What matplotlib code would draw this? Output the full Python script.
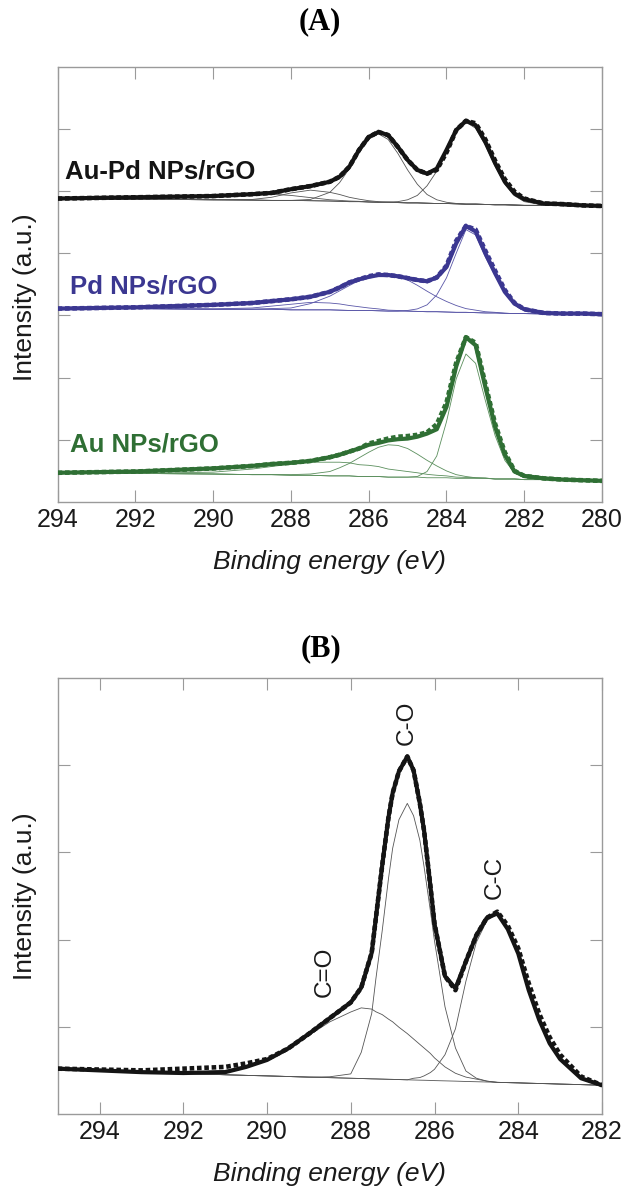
import numpy as np
import matplotlib
matplotlib.use('Agg')
import matplotlib.pyplot as plt

plt.rcParams['font.family'] = ['Liberation Sans', 'DejaVu Sans']

# ---------------- panel A: C1s of the three composites ----------------
energy_a = [294, 292, 290, 289, 288.5, 288, 287.5, 287, 286.75, 286.5, 286.25, 286,
            285.75, 285.5, 285.25, 285, 284.75, 284.5, 284.25, 284, 283.75, 283.5,
            283.25, 283, 282.75, 282.5, 282.25, 282, 281.5, 281, 280.5, 280]

# Au-Pd NPs/rGO (black)
aupd_fit = [4.88, 4.90, 4.92, 4.95, 4.97, 5.03, 5.08, 5.15, 5.23, 5.39, 5.66, 5.87,
            5.95, 5.90, 5.71, 5.50, 5.34, 5.28, 5.36, 5.66, 5.98, 6.13, 6.06, 5.79,
            5.45, 5.15, 4.96, 4.87, 4.80, 4.79, 4.77, 4.76]
aupd_meas = [4.88, 4.90, 4.92, 4.95, 4.97, 5.03, 5.08, 5.15, 5.23, 5.39, 5.66, 5.87,
             5.95, 5.90, 5.71, 5.50, 5.34, 5.28, 5.34, 5.62, 5.98, 6.13, 6.09, 5.83,
             5.49, 5.19, 4.99, 4.88, 4.80, 4.79, 4.77, 4.76]
aupd_base = [4.88, 4.87, 4.86, 4.855, 4.85, 4.85, 4.845, 4.84, 4.835, 4.83, 4.83, 4.825,
             4.82, 4.82, 4.815, 4.81, 4.81, 4.805, 4.80, 4.80, 4.795, 4.79, 4.79, 4.785,
             4.78, 4.78, 4.775, 4.77, 4.77, 4.765, 4.76, 4.76]
aupd_cc = [0, 0, 0, 0, 0, 0, 0, 0, 0, 0, 0, 0, 0, .005, .015, .05, .12, .28, .52, .85,
           1.17, 1.32, 1.22, .95, .62, .33, .15, .06, .005, 0, 0, 0]
aupd_co = [0, 0, 0, 0, 0, 0, .02, .14, .30, .53, .79, 1.01, 1.10, 1.01, .79, .53, .30,
           .14, .06, .02, .006, 0, 0, 0, 0, 0, 0, 0, 0, 0, 0, 0]
aupd_c3 = [0, 0, 0, .01, .05, .12, .17, .14, .11, .07, .04, .02, .01, 0, 0, 0, 0, 0, 0,
           0, 0, 0, 0, 0, 0, 0, 0, 0, 0, 0, 0, 0]
aupd_c4 = [0, 0, .04, .10, .10, .08, .05, .02, .015, .01, .005, 0, 0, 0, 0, 0, 0, 0, 0,
           0, 0, 0, 0, 0, 0, 0, 0, 0, 0, 0, 0, 0]

# Pd NPs/rGO (blue)
pd_fit = [3.11, 3.13, 3.17, 3.20, 3.23, 3.26, 3.30, 3.38, 3.45, 3.53, 3.58, 3.62,
          3.65, 3.65, 3.63, 3.60, 3.57, 3.55, 3.61, 3.78, 4.16, 4.44, 4.35, 4.00,
          3.68, 3.38, 3.19, 3.10, 3.04, 3.03, 3.03, 3.02]
pd_meas = [3.11, 3.13, 3.17, 3.20, 3.23, 3.26, 3.30, 3.38, 3.45, 3.53, 3.58, 3.63,
           3.66, 3.65, 3.63, 3.60, 3.57, 3.55, 3.61, 3.80, 4.20, 4.44, 4.38, 4.04,
           3.72, 3.41, 3.20, 3.10, 3.04, 3.03, 3.03, 3.02]
pd_base = [3.11, 3.11, 3.10, 3.10, 3.10, 3.09, 3.09, 3.09, 3.085, 3.08, 3.08, 3.08,
           3.075, 3.07, 3.07, 3.07, 3.065, 3.06, 3.06, 3.055, 3.05, 3.05, 3.045, 3.04,
           3.04, 3.035, 3.03, 3.03, 3.025, 3.02, 3.02, 3.02]
pd_cc = [0, 0, 0, 0, 0, 0, 0, 0, 0, 0, 0, 0, 0, 0, 0, .01, .04, .11, .27, .55, .95,
         1.33, 1.25, .90, .60, .33, .14, .05, .01, 0, 0, 0]
pd_co = [0, 0, 0, 0, .01, .03, .10, .22, .31, .40, .48, .56, .59, .60, .57, .50, .42,
         .33, .24, .17, .11, .06, .04, .02, .01, 0, 0, 0, 0, 0, 0, 0]
pd_c3 = [0, 0, .005, .02, .05, .09, .12, .11, .10, .08, .06, .04, .03, .015, .01, 0, 0,
         0, 0, 0, 0, 0, 0, 0, 0, 0, 0, 0, 0, 0, 0, 0]

# Au NPs/rGO (green)
au_fit = [.47, .49, .54, .58, .61, .63, .66, .72, .76, .81, .86, .92, .95, .99, 1.01,
          1.02, 1.05, 1.10, 1.17, 1.53, 2.18, 2.65, 2.52, 1.85, 1.21, .76, .49, .42,
          .38, .36, .35, .34]
au_meas = [.47, .49, .54, .58, .61, .63, .66, .72, .76, .81, .86, .94, .98, 1.02, 1.05,
           1.06, 1.08, 1.12, 1.25, 1.60, 2.24, 2.65, 2.56, 1.90, 1.26, .80, .50, .42,
           .38, .36, .35, .34]
au_base = [.47, .46, .45, .44, .44, .43, .43, .42, .42, .42, .41, .41, .41, .40, .40,
           .40, .40, .39, .39, .39, .38, .38, .38, .38, .37, .37, .37, .36, .36, .35,
           .35, .34]
au_cc = [0, 0, 0, 0, 0, 0, 0, 0, 0, 0, 0, 0, 0, 0, 0, 0, .01, .10, .35, .90, 1.60,
         2.00, 1.85, 1.25, .70, .30, .10, .03, 0, 0, 0, 0]
au_co = [0, 0, 0, 0, 0, .01, .02, .07, .13, .20, .30, .39, .47, .52, .51, .46, .37,
         .28, .19, .11, .06, .03, .01, .005, 0, 0, 0, 0, 0, 0, 0, 0]
au_c3 = [0, 0, .03, .09, .13, .18, .21, .22, .22, .21, .19, .18, .16, .13, .11, .09,
         .07, .055, .04, .03, .02, .015, .01, .005, 0, 0, 0, 0, 0, 0, 0, 0]

labels_a = ['Au-Pd NPs/rGO', 'Pd NPs/rGO', 'Au NPs/rGO']
label_pos_a = [(293.82, 5.31), (293.68, 3.47), (293.68, 0.93)]
colors_a = ['#141414', '#3b3791', '#2f6f34']
thin_a = ['#555555', '#5a57a8', '#5b8f5d']

# ---------------- panel B: C1s of GO ----------------
energy_b = [295, 294, 293, 292, 291, 290.5, 290, 289.5, 289, 288.5, 288, 287.75, 287.5,
            287.4, 287.25, 287.1, 287, 286.85, 286.65, 286.5, 286.35, 286.25, 286.1,
            286, 285.75, 285.5, 285.25, 285, 284.75, 284.5, 284.25, 284, 283.75, 283.5,
            283.25, 283, 282.5, 282]
go_fit = [.52, .50, .48, .47, .48, .54, .62, .75, .92, 1.10, 1.28, 1.45, 1.85, 2.25,
          2.85, 3.40, 3.68, 3.93, 4.10, 3.94, 3.56, 3.25, 2.62, 2.18, 1.58, 1.44, 1.75,
          2.05, 2.25, 2.30, 2.12, 1.84, 1.42, 1.08, .81, .63, .41, .33]
go_meas = [.52, .51, .50, .52, .54, .58, .63, .75, .92, 1.10, 1.28, 1.45, 1.85, 2.25,
           2.85, 3.40, 3.68, 3.93, 4.10, 3.94, 3.56, 3.25, 2.62, 2.18, 1.58, 1.42, 1.75,
           2.05, 2.25, 2.32, 2.16, 1.90, 1.50, 1.15, .88, .68, .43, .33]
go_base = [.52, .50, .48, .465, .45, .443, .437, .43, .423, .417, .41, .407, .403, .402,
           .40, .398, .397, .395, .392, .39, .388, .387, .385, .383, .38, .377, .373,
           .37, .367, .363, .36, .357, .353, .35, .347, .343, .337, .33]
go_co = [0, 0, 0, 0, 0, 0, 0, 0, 0, .01, .05, .30, .75, 1.15, 1.70, 2.30, 2.65, 2.98,
         3.17, 3.03, 2.75, 2.45, 1.95, 1.60, .85, .38, .12, .04, .01, 0, 0, 0, 0, 0, 0,
         0, 0, 0]
go_c_o = [0, 0, 0, .01, .05, .10, .18, .31, .48, .64, .76, .81, .80, .77, .74, .69,
          .66, .60, .53, .47, .41, .37, .31, .26, .16, .09, .05, .03, .01, 0, 0, 0, 0,
          0, 0, 0, 0, 0]
go_cc = [0, 0, 0, 0, 0, 0, 0, 0, 0, 0, 0, 0, 0, 0, 0, 0, 0, 0, 0, .02, .03, .05, .09,
         .13, .30, .60, 1.15, 1.60, 1.85, 1.93, 1.76, 1.48, 1.07, .73, .46, .29, .08, .01]
peak_names = ['C=O', 'C-O', 'C-C']
peak_pos = [(288.62, 1.63), (286.66, 4.49), (284.57, 2.71)]

W, H = 628, 1192
fig = plt.figure(figsize=(W / 100, H / 100), dpi=100)
axA = fig.add_axes([57.7 / W, 1 - 502 / H, 544.3 / W, 435.3 / H])
axB = fig.add_axes([57.7 / W, 1 - 1114 / H, 544.3 / W, 436 / H])


def style(ax, xlim, ylim, xticks, yticks, ylab_y):
    ax.set_xlim(*xlim)
    ax.set_ylim(*ylim)
    ax.set_xticks(xticks)
    ax.set_yticks(yticks)
    ax.tick_params(direction='in', length=8.5, width=0.8, color='#9a9a9a',
                   top=True, right=True, labelsize=18, pad=4.5, labelcolor='#1a1a1a')
    ax.tick_params(axis='y', labelleft=False)
    for s in ax.spines.values():
        s.set_color('#9a9a9a')
        s.set_linewidth(1.0)
    ax.set_xlabel('Binding energy (eV)', fontsize=19, style='italic',
                  labelpad=13, color='#1a1a1a')
    ax.set_ylabel('Intensity (a.u.)', fontsize=19, color='#1a1a1a')
    ax.yaxis.set_label_coords(-0.038, ylab_y)


def spectrum(ax, x, base, comps, meas, fit, col, thin):
    x = np.array(x)
    base = np.array(base)
    for c in comps:
        ax.plot(x, base + np.array(c), color=thin, lw=0.6, zorder=2)
    ax.plot(x, base, color=thin, lw=0.6, zorder=2)
    ax.plot(x, meas, color=col, lw=3.3, ls=(0, (1.0, 0.6)), zorder=3)
    ax.plot(x, fit, color=col, lw=3.0, zorder=4, solid_joinstyle='round',
            solid_capstyle='round')


spectrum(axA, energy_a, aupd_base, [aupd_cc, aupd_co, aupd_c3, aupd_c4],
         aupd_meas, aupd_fit, colors_a[0], thin_a[0])
spectrum(axA, energy_a, pd_base, [pd_cc, pd_co, pd_c3],
         pd_meas, pd_fit, colors_a[1], thin_a[1])
spectrum(axA, energy_a, au_base, [au_cc, au_co, au_c3],
         au_meas, au_fit, colors_a[2], thin_a[2])
for name, (px, py), col in zip(labels_a, label_pos_a, colors_a):
    axA.text(px, py, name, color=col, fontsize=18.5, fontweight='bold',
             ha='left', va='center')
style(axA, (294, 280), (0, 7), np.arange(294, 279, -2), range(1, 7), 0.47)

spectrum(axB, energy_b, go_base, [go_co, go_c_o, go_cc],
         go_meas, go_fit, '#141414', '#555555')
for name, (px, py) in zip(peak_names, peak_pos):
    axB.text(px, py, name, fontsize=17.5, rotation=90, ha='center', va='center',
             color='#1a1a1a')
style(axB, (295, 282), (0, 5), np.arange(294, 281, -2), range(1, 5), 0.50)

fig.text(320 / W, 1 - 22 / H, '(A)', fontsize=22, fontweight='bold',
         family=['Liberation Serif', 'DejaVu Serif'], ha='center', va='center')
fig.text(321 / W, 1 - 649 / H, '(B)', fontsize=22, fontweight='bold',
         family=['Liberation Serif', 'DejaVu Serif'], ha='center', va='center')

fig.savefig('out.png', dpi=100)
